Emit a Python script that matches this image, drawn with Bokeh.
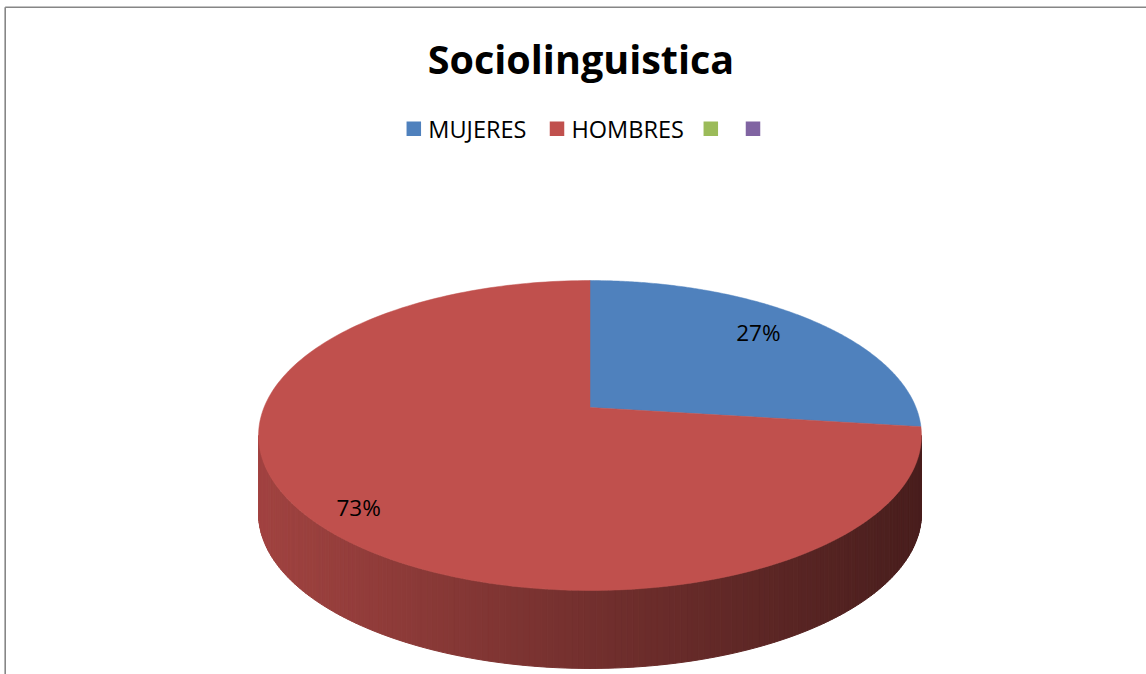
import numpy as np
from bokeh.plotting import figure
from bokeh.models import Range1d
from bokeh.embed import file_html
from bokeh.resources import INLINE
from bokeh.core.properties import value

# ---- data ----
title = "Sociolinguistica"
categories = ["MUJERES", "HOMBRES", "", ""]
values = [27, 73]
colors = ["#4F81BD", "#C0504D", "#9BBB59", "#8064A2"]

# ---- figure in screen-pixel coordinates ----
W, H = 1146, 674
p = figure(width=W, height=H, x_range=Range1d(0, W), y_range=Range1d(H, 0),
           output_backend="svg", toolbar_location=None, min_border=0)
p.axis.visible = False
p.grid.visible = False
p.outline_line_color = None
p.background_fill_color = "white"
p.border_fill_color = "white"

# chart frame (left/top visible)
p.line([4.7, 4.7], [H, 6.7], line_color="#868686", line_width=1.6)
p.line([4.7, W], [6.7, 6.7], line_color="#868686", line_width=1.6)

# ---- 3D pie projection ----
cx, cy, A, B, k, depth = 589.5, 407.0, 326.0, 149.9, 0.1807, 78.0

def proj(theta_deg, r=1.0):
    t = np.radians(theta_deg)
    u, v = r * np.sin(t), r * np.cos(t)
    s = 1.0 / (1.0 + k * v)
    return cx + A * u * s, cy - B * v * s

def hex2rgb(h):
    h = h.lstrip("#")
    return tuple(int(h[i:i + 2], 16) for i in (0, 2, 4))

total = float(sum(values))
bounds = np.concatenate([[0], np.cumsum(values) / total * 360.0])

# side wall (front half), shaded from left to right
th_right = 90 + np.degrees(np.arcsin(k))
th_left = 270 - np.degrees(np.arcsin(k))
N = 180
ths = np.linspace(th_right, th_left, N + 1)
xl_, _ = proj(th_left)
xr_, _ = proj(th_right)
xs_side, ys_side, cols_side = [], [], []
for a, b in zip(ths[:-1], ths[1:]):
    xa, ya = proj(a)
    xb, yb = proj(b)
    mid = (a + b) / 2
    idx = int(np.searchsorted(bounds, mid, side="right") - 1)
    idx = min(max(idx, 0), len(values) - 1)
    base = hex2rgb(colors[idx])
    t = ((xa + xb) / 2 - xl_) / (xr_ - xl_)
    f = np.interp(t, [0, 0.5, 1], [0.84, 0.60, 0.38])
    c = "#%02x%02x%02x" % tuple(int(min(255, ch * f)) for ch in base)
    xs_side.append([xa, xb, xb, xa])
    ys_side.append([ya, yb, yb + depth, ya + depth])
    cols_side.append(c)
p.patches(xs_side, ys_side, fill_color=cols_side, line_color=cols_side, line_width=1)

# top surfaces
for i, v in enumerate(values):
    th = np.linspace(bounds[i], bounds[i + 1], 200)
    x, y = proj(th)
    xs = np.concatenate([[cx], x])
    ys = np.concatenate([[cy], y])
    p.patch(xs, ys, fill_color=colors[i], line_color=colors[i], line_width=0.5)

# percentage labels
label_r = [0.75, 0.85]
label_dy = [-7, 6]
for i, v in enumerate(values):
    mid = (bounds[i] + bounds[i + 1]) / 2
    lx, ly = proj(mid, label_r[i])
    p.text([lx], [ly + label_dy[i]], text=["%d%%" % round(v / total * 100)],
           text_font=value("Open Sans"), text_font_size="22.5px", text_color="black",
           text_align="center", text_baseline="middle")

# title
p.text([580.5], [58], text=[title], text_font=value("Open Sans"), text_font_style="bold",
       text_font_size="39.5px", text_color="black", text_align="center",
       text_baseline="middle")

# legend
leg_sq_x = [413.3, 556.5, 710.3, 752.5]
leg_y = 128.3
p.scatter(leg_sq_x, [leg_y] * 4, marker="square", size=14.5, fill_color=colors,
          line_color=None)
for i, name in enumerate(categories):
    if name:
        p.text([leg_sq_x[i] + 14.5], [leg_y], text=[name], text_font=value("Open Sans"),
               text_font_size="23.5px", text_color="black", text_align="left",
               text_baseline="middle")

open("out.html", "w").write(file_html(p, INLINE))
